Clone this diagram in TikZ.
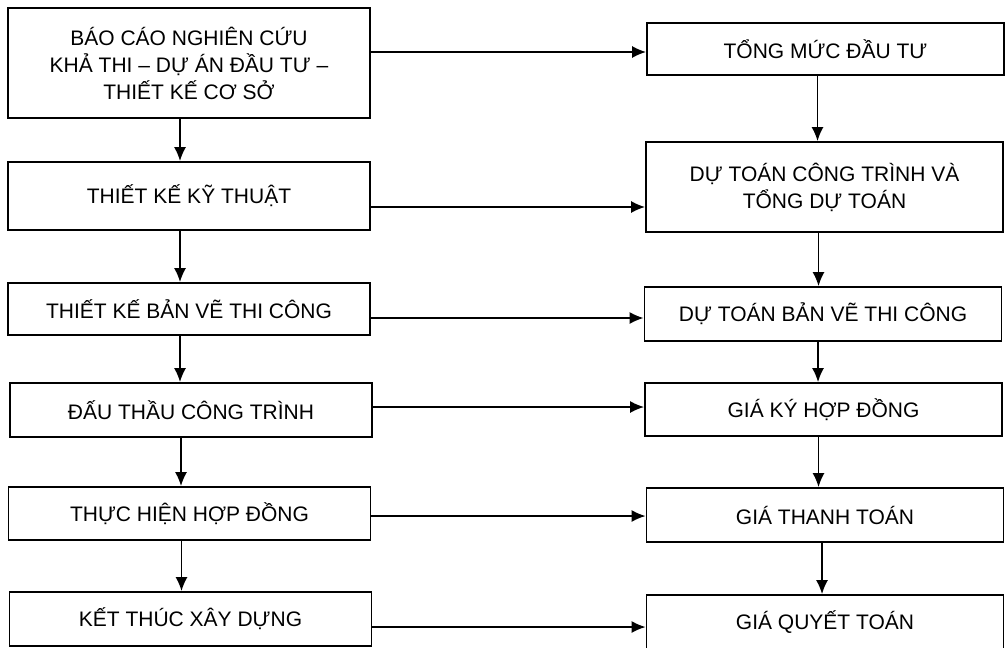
\documentclass[tikz,border=0pt]{standalone}
\usepackage{fontspec}
\setmainfont{Liberation Sans}
\usetikzlibrary{arrows.meta}

\tikzset{
  leftbox/.style={draw, line width=0.9pt, minimum width=181pt, inner sep=0pt, align=center},
  rightbox/.style={draw, line width=0.9pt, minimum width=178.5pt, inner sep=0pt, align=center},
  link/.style={->, line width=0.8pt}
}

\begin{document}
\begin{tikzpicture}[x=0.5pt, y=-0.5pt, >={Latex[length=7pt,width=6pt]},
  font=\fontsize{10.5}{13.5}\selectfont]

\useasboundingbox (0,0) rectangle (1005,647);

% left column
\node[leftbox, minimum height=55pt] (bc) at (189,63)
{BÁO CÁO NGHIÊN CỨU\\KHẢ THI – DỰ ÁN ĐẦU TƯ –\\THIẾT KẾ CƠ SỞ};
\node[leftbox, minimum height=34pt] (tkkt) at (189,196) {THIẾT KẾ KỸ THUẬT};
\node[leftbox, minimum height=26pt] (tkbv) at (189,309) {THIẾT KẾ BẢN VẼ THI CÔNG};
\node[leftbox, minimum height=27pt] (dt) at (191,410) {ĐẤU THẦU CÔNG TRÌNH};
\node[leftbox, minimum height=26.5pt] (thhd) at (189.5,513.5) {THỰC HIỆN HỢP ĐỒNG};
\node[leftbox, minimum height=27pt] (ktxd) at (190.5,619) {KẾT THÚC XÂY DỰNG};

% right column
\node[rightbox, minimum height=26pt] (tmdt) at (825.5,49) {TỔNG MỨC ĐẦU TƯ};
\node[rightbox, minimum height=45pt] (dtct) at (824.5,187)
{DỰ TOÁN CÔNG TRÌNH VÀ\\TỔNG DỰ TOÁN};
\node[rightbox, minimum height=27pt] (dtbv) at (823,314) {DỰ TOÁN BẢN VẼ THI CÔNG};
\node[rightbox, minimum height=26.5pt] (gkhd) at (823.5,409.5) {GIÁ KÝ HỢP ĐỒNG};
\node[rightbox, minimum height=27pt] (gtt) at (825,515) {GIÁ THANH TOÁN};
\node[rightbox, minimum height=27.5pt] (gqt) at (825,622.5) {GIÁ QUYẾT TOÁN};

% down the left
\draw[link] ([xshift=-4.5pt]bc.south) -- ([xshift=-4.5pt]tkkt.north);
\draw[link] ([xshift=-4.5pt]tkkt.south) -- ([xshift=-4.5pt]tkbv.north);
\draw[link] ([xshift=-4.5pt]tkbv.south) -- ([xshift=-4.5pt]dt.north -| tkbv.south);
\draw[link] ([xshift=-5pt]dt.south) -- ([xshift=-5pt]thhd.north -| dt.south);
\draw[link] ([xshift=-4pt]thhd.south) -- ([xshift=-4pt]ktxd.north -| thhd.south);

% down the right
\draw[link] ([xshift=-4pt]tmdt.south) -- ([xshift=-4pt]dtct.north -| tmdt.south);
\draw[link] ([xshift=-3pt]dtct.south) -- ([xshift=-3pt]dtbv.north -| dtct.south);
\draw[link] ([xshift=-2.5pt]dtbv.south) -- ([xshift=-2.5pt]gkhd.north -| dtbv.south);
\draw[link] ([xshift=-2.5pt]gkhd.south) -- ([xshift=-2.5pt]gtt.north -| gkhd.south);
\draw[link] ([xshift=-1.5pt]gtt.south) -- ([xshift=-1.5pt]gqt.north -| gtt.south);

% across
\draw[link] ([yshift=-1.5pt]tmdt.west -| bc.east) -- ([yshift=-1.5pt]tmdt.west);
\draw[link] ([yshift=-10pt]dtct.west -| tkkt.east) -- ([yshift=-10pt]dtct.west);
\draw[link] ([yshift=-2pt]dtbv.west -| tkbv.east) -- ([yshift=-2pt]dtbv.west);
\draw[link] ([yshift=1.25pt]gkhd.west -| dt.east) -- ([yshift=1.25pt]gkhd.west);
\draw[link] ([yshift=-0.5pt]gtt.west -| thhd.east) -- ([yshift=-0.5pt]gtt.west);
\draw[link] ([yshift=-2.25pt]gqt.west -| ktxd.east) -- ([yshift=-2.25pt]gqt.west);

\end{tikzpicture}
\end{document}
